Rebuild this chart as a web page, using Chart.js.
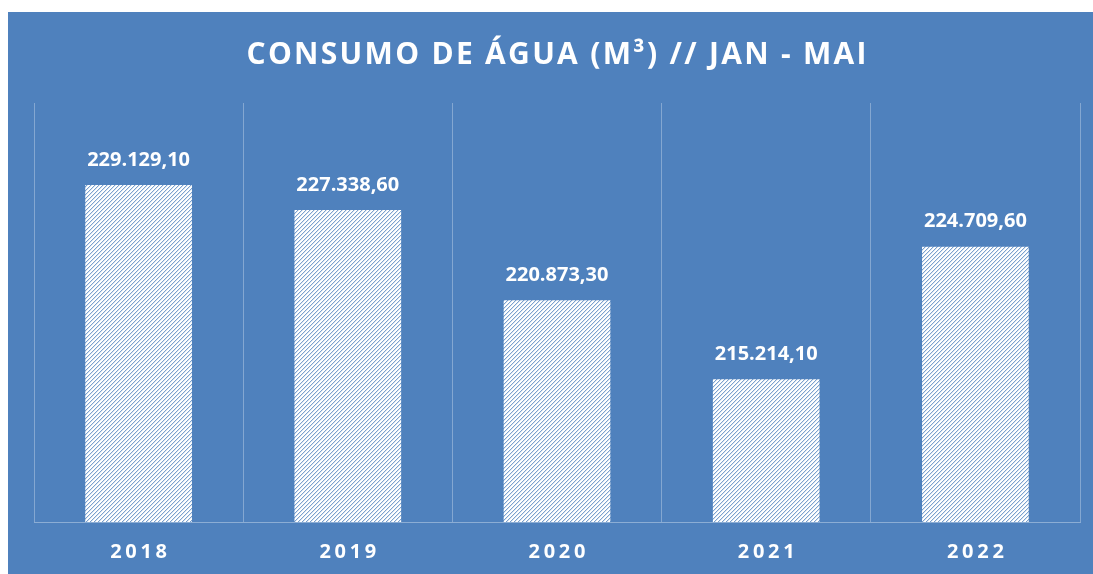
<!DOCTYPE html>
<html>
<head>
<meta charset="utf-8">
<script src="https://cdn.jsdelivr.net/npm/chart.js@4"></script>
<style>
  html, body { margin: 0; padding: 0; background: #fff; }
  #wrap { position: absolute; left: 8px; top: 12px; width: 1085px; height: 562px; }
</style>
</head>
<body>
<div id="wrap"><canvas id="consumo"></canvas></div>
<script>
const anos = ['2018', '2019', '2020', '2021', '2022'];
const consumo = [229129.10, 227338.60, 220873.30, 215214.10, 224709.60];
const titulo = 'CONSUMO DE ÁGUA (M³) // JAN - MAI';

const azul = '#4f81bd';

// 1.234,56 style
function fmt(v) {
  const [int, dec] = v.toFixed(2).split('.');
  return int.replace(/\B(?=(\d{3})+(?!\d))/g, '.') + ',' + dec;
}

function hachura() {
  const c = document.createElement('canvas');
  c.width = 4; c.height = 4;
  const g = c.getContext('2d');
  g.fillStyle = '#ffffff';
  g.fillRect(0, 0, 4, 4);
  g.fillStyle = 'rgba(79,129,189,0.75)';
  for (let i = 0; i < 4; i++) g.fillRect(3 - i, i, 1, 1);
  g.fillStyle = 'rgba(79,129,189,0.2)';
  for (let i = 0; i < 4; i++) g.fillRect((4 - i) % 4, i, 1, 1);
  return g.createPattern(c, 'repeat');
}

function spaced(ctx, text, x, y, sp) {
  ctx.letterSpacing = sp + 'px';
  ctx.fillText(text, x + sp / 2, y);
  ctx.letterSpacing = '0px';
}

const desenho = {
  id: 'desenho',
  beforeDraw(chart) {
    const ctx = chart.ctx;
    ctx.save();
    ctx.fillStyle = azul;
    ctx.fillRect(0, 0, chart.width, chart.height);
    ctx.restore();
  },
  afterDraw(chart) {
    const ctx = chart.ctx;
    const x = chart.scales.x;
    const meta = chart.getDatasetMeta(0);
    ctx.save();
    ctx.fillStyle = '#ffffff';
    ctx.textAlign = 'center';
    ctx.textBaseline = 'middle';

    ctx.font = 'bold 30px "Open Sans"';
    spaced(ctx, titulo, chart.width / 2 + 6, 43, 2.3);

    ctx.font = 'bold 20px "Open Sans"';
    anos.forEach((a, i) => spaced(ctx, a, x.getPixelForValue(i), 540.5, 3.7));

    ctx.font = 'bold 20px "Open Sans"';
    meta.data.forEach((bar, i) => {
      ctx.fillText(fmt(consumo[i]), bar.x, bar.y - 25);
    });
    ctx.restore();
  }
};

new Chart(document.getElementById('consumo'), {
  type: 'bar',
  data: {
    labels: anos,
    datasets: [{
      label: 'Consumo',
      data: consumo,
      backgroundColor: hachura(),
      borderWidth: 0,
      barPercentage: 0.51,
      categoryPercentage: 1
    }]
  },
  options: {
    responsive: true,
    maintainAspectRatio: false,
    animation: false,
    layout: { padding: { left: 26, right: 13, top: 91, bottom: 52 } },
    plugins: {
      legend: { display: false },
      title: { display: false },
      tooltip: { enabled: false }
    },
    scales: {
      x: {
        offset: true,
        grid: { display: true, offset: true, drawTicks: false, color: 'rgba(255,255,255,0.3)', lineWidth: 1 },
        border: { display: true, color: 'rgba(255,255,255,0.35)' },
        ticks: { display: false }
      },
      y: {
        display: false,
        min: 205000,
        max: 235000
      }
    }
  },
  plugins: [desenho]
});
</script>
</body>
</html>
